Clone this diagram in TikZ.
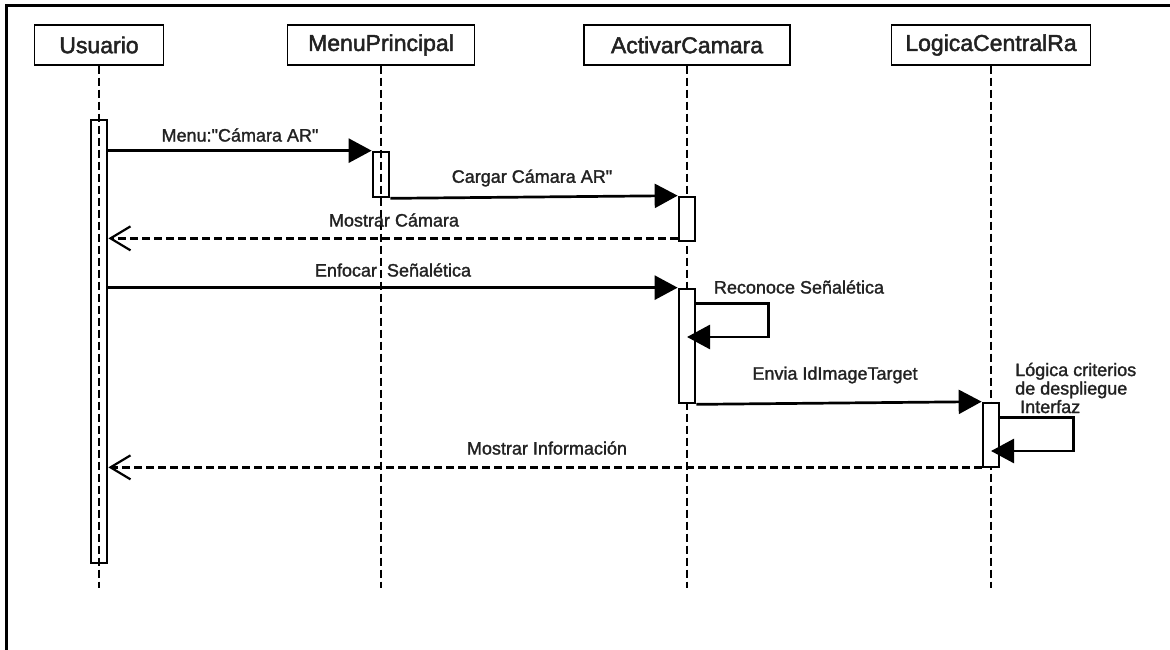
\documentclass[tikz,border=0pt]{standalone}
\usepackage{fontspec}
\setmainfont{Liberation Sans}
\newfontfamily\headfont[FakeBold=2]{Liberation Sans}
\newfontfamily\msgfont[FakeBold=1.5]{Liberation Sans}
\usetikzlibrary{arrows.meta}
\definecolor{txt}{RGB}{34,34,34}
\newcommand{\dq}{\symbol{34}}
\begin{document}
\begin{tikzpicture}[x=1pt,y=-1pt,
  head/.style={draw, line width=1.3pt, minimum height=40pt, inner sep=0pt,
    font=\headfont\fontsize{23}{25}\selectfont, text=txt},
  life/.style={line width=2.4pt, dash pattern=on 8pt off 4pt},
  act/.style={draw, line width=2.7pt, minimum width=16pt, inner sep=0pt},
  msg/.style={line width=2.7pt, -{Triangle[length=23pt,width=24pt]}},
  ret/.style={line width=2.7pt, dash pattern=on 8pt off 4pt,
    -{Straight Barb[length=20pt,width=24pt,line width=2.2pt]}},
  lbl/.style={font=\msgfont\fontsize{18}{18.5}\selectfont, text=txt, inner sep=0pt}]
\useasboundingbox (0,0) rectangle (1170,650);

% outer frame (left and top edges)
\draw[line width=3pt] (6.5,650) -- (6.5,5.5) -- (1170,5.5);

% participants
\node[head, minimum width=129pt] (usr)   at (99,45)  {Usuario};
\node[head, minimum width=187pt] (menu)  at (381,45) {MenuPrincipal};
\node[head, minimum width=206pt] (cam)   at (687,45) {ActivarCamara};
\node[head, minimum width=199pt] (logic) at (991,45) {LogicaCentralRa};

% lifeline ends
\coordinate (usrEnd)   at (99,588);
\coordinate (menuEnd)  at (381,588);
\coordinate (camEnd)   at (687,588);
\coordinate (logicEnd) at (991,588);

\draw[life] (usr.south)   -- (usrEnd);
\draw[life] (menu.south)  -- (menuEnd);
\draw[life] (cam.south)   -- (camEnd);
\draw[life] (logic.south) -- (logicEnd);

% activation bars
\node[act, minimum height=443pt] (a0) at (99,341.5) {};
\node[act, minimum height=45pt]  (a1) at (381,174.5) {};
\node[act, fill=white, minimum height=44pt]  (a2) at (687,219) {};
\node[act, fill=white, minimum height=114pt] (a3) at (687,346) {};
\node[act, fill=white, minimum height=64pt]  (a4) at (991,435) {};

% self-call targets
\coordinate (s1) at (687,337);
\coordinate (s2) at (991,451);

% messages
\draw[msg] (a0.east |- a1.north west) -- (a1.north west);
\draw[msg] (a1.south east) -- (a2.north west);
\draw[ret] ([yshift=4pt]a2.south west) -- ([yshift=4pt]a2.south west -| a0.east);
\draw[msg] (a0.east |- a3.north west) -- (a3.north west);
\draw[msg] ([yshift=-16pt]a3.north east) -- ++(72,0) |- (s1);
\draw[msg] (a3.south east) -- (a4.north west);
\draw[msg] ([yshift=-16pt]a4.north east) -- ++(73,0) |- (s2);
\draw[ret] ([yshift=1pt]a4.south west) -- ([yshift=1pt]a4.south west -| a0.east);

% message labels
\node[lbl] (l1) at (240,135) {Menu:\dq Cámara AR\dq};
\node[lbl] (l2) at (532,178) {Cargar Cámara AR\dq};
\node[lbl] (l3) at (394,220) {Mostrar Cámara};
\node[lbl] (l4) at (393,270) {Enfocar~~Señalética};
\node[lbl] (l5) at (799,287) {Reconoce Señalética};
\node[lbl] (l6) at (835,375) {Envia IdImageTarget};
\node[lbl, align=left, anchor=west] (l7) at (1015,388)
  {Lógica criterios\\de despliegue\\\ Interfaz};
\node[lbl] (l8) at (547,448) {Mostrar Información};
\end{tikzpicture}
\end{document}
